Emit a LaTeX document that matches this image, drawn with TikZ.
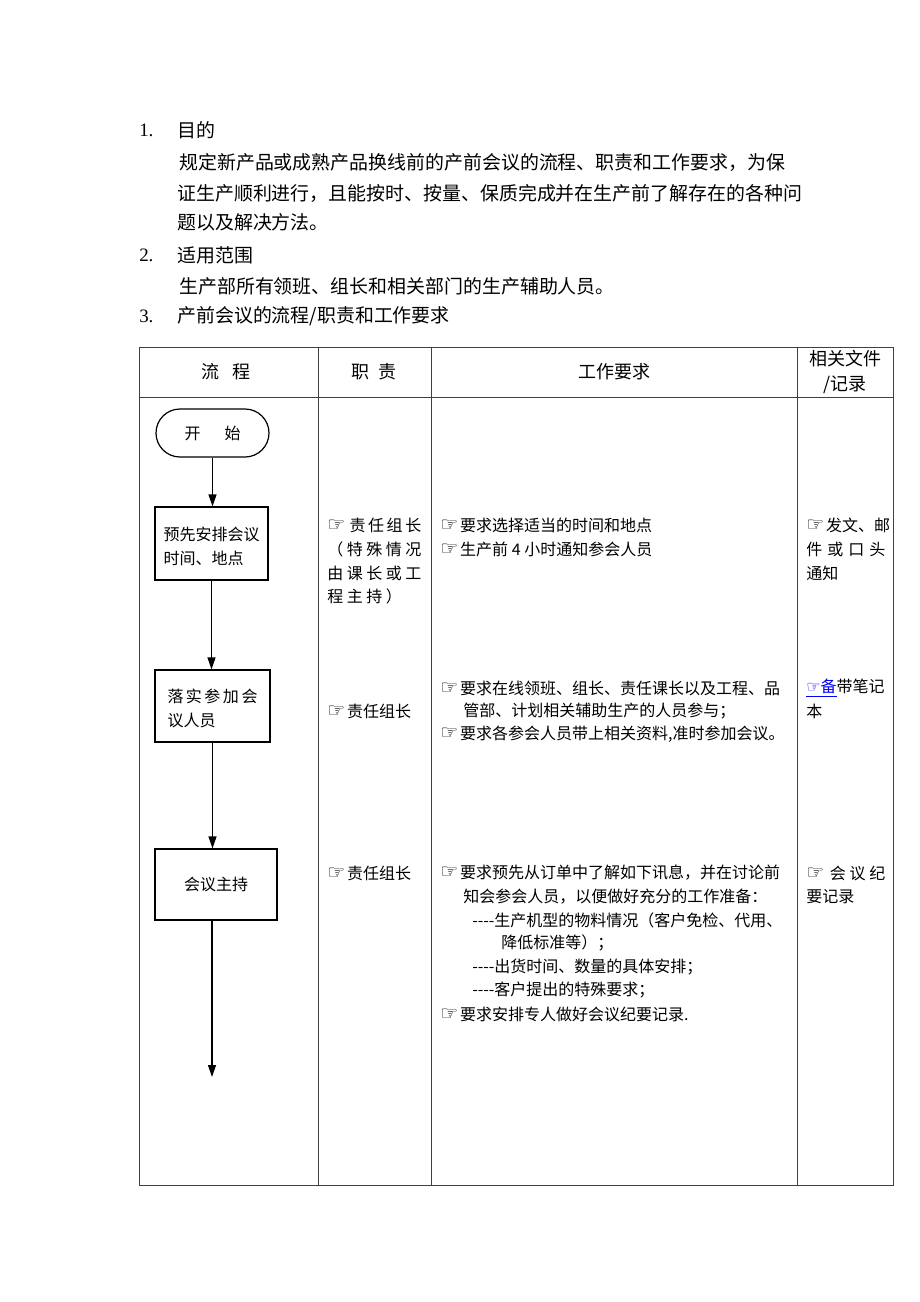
\documentclass[tikz,border=0pt]{standalone}
\usepackage{fontspec}
\setmainfont{Noto Sans CJK SC}
\newfontfamily\sym{DejaVu Sans}
\newfontfamily\lat{Liberation Serif}
\usetikzlibrary{arrows.meta}
\newcommand{\hand}{{\sym\fontsize{15}{14}\selectfont ☞}\hspace{1.5pt}}
\newcommand{\spr}[2]{\hbox to #1{#2}}
\begin{document}
\begin{tikzpicture}[x=0.75pt,y=-0.75pt,
 t/.style={anchor=west,inner sep=0pt,font=\fontsize{12}{14}\selectfont},
 b/.style={anchor=west,inner sep=0pt,font=\fontsize{14.2}{16}\selectfont},
 hd/.style={inner sep=0pt,font=\fontsize{13.5}{18.75}\selectfont,align=center},
 box/.style={draw,line width=0.9pt,inner sep=0pt,font=\fontsize{12}{18}\selectfont,align=left},
 term/.style={box,rounded corners=18pt},
 arr/.style={line width=0.9pt,-{Triangle[length=9pt,width=6pt]}},
 grid/.style={draw=black!75,line width=0.75pt}]
\useasboundingbox[fill=white] (0,0) rectangle (920,1302);

% ---- heading text
\node[b] (n1) at (139,130) {\lat 1.};
\node[b] (h1) at (177,130) {目的};
\node[b] (p1) at (179,162) {规定新产品或成熟产品换线前的产前会议的流程、职责和工作要求，为保};
\node[b] (p2) at (177,193) {证生产顺利进行，且能按时、按量、保质完成并在生产前了解存在的各种问};
\node[b] (p3) at (177,222) {题以及解决方法。};
\node[b] (n2) at (139,255) {\lat 2.};
\node[b] (h2) at (177,255) {适用范围};
\node[b] (p4) at (179,286) {生产部所有领班、组长和相关部门的生产辅助人员。};
\node[b] (n3) at (139,316) {\lat 3.};
\node[b] (h3) at (177,316) {产前会议的流程/职责和工作要求};

% ---- table
\draw[grid] (139,347) rectangle (893,1185);
\draw[grid] (139,397) -- (893,397);
\draw[grid] (318,347) -- (318,1185);
\draw[grid] (431,347) -- (431,1185);
\draw[grid] (797,347) -- (797,1185);

\node[hd] (c1) at (226,372) {流\hspace{10.5pt}程};
\node[hd] (c2) at (374,372) {职\hspace{7pt}责};
\node[hd] (c3) at (614,372) {工作要求};
\node[hd] (c4) at (845,372) {相关文件\\/记录};

% ---- flow
\node[term,minimum width=84.75pt,minimum height=36pt] (s) at (212.5,433) {\raisebox{-2pt}{开\hspace{18pt}始}};
\node[box,minimum width=84.75pt,minimum height=54.75pt] (b1) at (211.5,543.5) {\rule{0pt}{14pt}预先安排会议\\时间、地点};
\node[box,minimum width=86.25pt,minimum height=54pt] (b2) at (212.5,706) {\rule{0pt}{14pt}\spr{67.5pt}{落\hfill 实\hfill 参\hfill 加\hfill 会}\\议人员};
\node[box,minimum width=91.5pt,minimum height=53.25pt,align=center] (b3) at (216,884.5) {\raisebox{-3pt}{会议主持}};
\coordinate (e) at (212,1077);

\draw[arr] (s.south) -- (s.south |- b1.north);
\draw[arr] (b1.south) -- (b1.south |- b2.north);
\draw[arr] (b2.south) -- (b2.south |- b3.north);
\draw[arr] (e |- b3.south) -- (e);

% ---- responsibility
\node[t] (r1a) at (327,525) {\spr{70.5pt}{\hand\hfill 责\hfill 任\hfill 组\hfill 长}};
\node[t] (r1b) at (327,549) {\spr{70.5pt}{（\hfill 特\hfill 殊\hfill 情\hfill 况}};
\node[t] (r1c) at (327,573) {\spr{70.5pt}{由\hfill 课\hfill 长\hfill 或\hfill 工}};
\node[t] (r1d) at (327,596) {\spr{55.9pt}{程\hfill 主\hfill 持\hfill ）}};
\node[t] (r2) at (327,711) {\hand 责任组长};
\node[t] (r3) at (327,873) {\hand 责任组长};

% ---- work requirements
\node[t] (w1a) at (440,525) {\hand 要求选择适当的时间和地点};
\node[t] (w1b) at (440,549) {\hand 生产前 4 小时通知参会人员};
\node[t] (w2a) at (440,688) {\hand 要求在线领班、组长、责任课长以及工程、品};
\node[t] (w2b) at (463,711) {管部、计划相关辅助生产的人员参与；};
\node[t] (w2c) at (440,734) {\hand 要求各参会人员带上相关资料,准时参加会议。};
\node[t] (w3a) at (440,873) {\hand 要求预先从订单中了解如下讯息，并在讨论前};
\node[t] (w3b) at (463,897) {知会参会人员，以便做好充分的工作准备：};
\node[t] (w3c) at (472,920) {-{}-{}-{}-生产机型的物料情况（客户免检、代用、};
\node[t] (w3d) at (501,943) {降低标准等）；};
\node[t] (w3e) at (472,967) {-{}-{}-{}-出货时间、数量的具体安排；};
\node[t] (w3f) at (472,990) {-{}-{}-{}-客户提出的特殊要求；};
\node[t] (w3g) at (440,1014) {\hand 要求安排专人做好会议纪要记录.};

% ---- documents
\node[t] (d1a) at (806,525) {\spr{59.25pt}{\hand\hfill 发\hfill 文\hfill 、\hfill 邮}};
\node[t] (d1b) at (806,549) {\spr{59.25pt}{件\hfill 或\hfill 口\hfill 头}};
\node[t] (d1c) at (806,573) {通知};
\node[t] (d2a) at (806,688) {\textcolor{blue}{\underline{{\sym ☞}备}}带笔记};
\node[t] (d2b) at (806,711) {本};
\node[t] (d3a) at (806,873) {\spr{59.25pt}{\hand\hfill 会\hfill 议\hfill 纪}};
\node[t] (d3b) at (806,897) {要记录};
\end{tikzpicture}
\end{document}
